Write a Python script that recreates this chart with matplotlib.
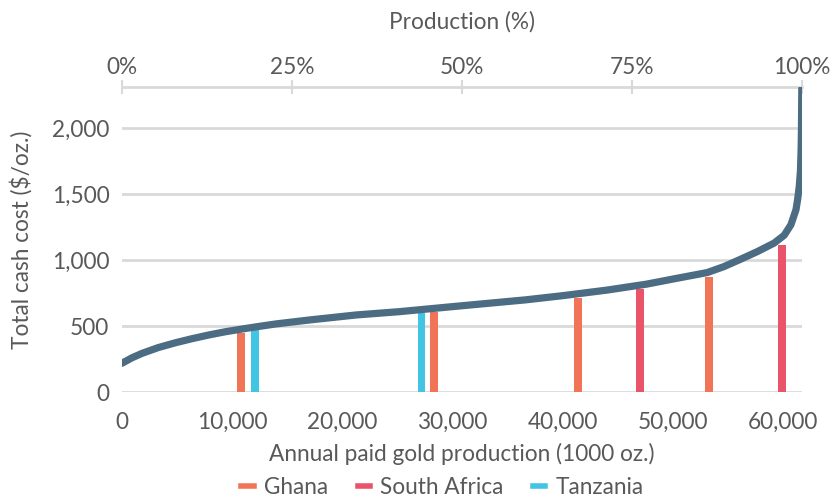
import matplotlib.pyplot as plt
from matplotlib.lines import Line2D

plt.rcParams['font.family'] = ['Lato', 'DejaVu Sans']

# ------------------------------------------------------------
# Cost curve: cumulative production (1000 oz.) vs total cash cost ($/oz.)
# ------------------------------------------------------------
cum_prod = [0, 900, 1850, 3300, 4880, 6400, 7920, 9400, 10950, 12500,
            13980, 17020, 21270, 25200, 30000, 36600, 40000, 44000, 47590,
            50070, 53110, 54620, 56140, 57660, 59170, 60080, 60690, 61150,
            61300, 61450, 61560, 61620, 61650, 61680]
cash_cost = [221, 262, 297, 340, 377, 408, 436, 460, 481, 501,
             519, 549, 587, 612, 650, 701, 733, 775, 820,
             860, 908, 953, 1009, 1067, 1131, 1190, 1269, 1383,
             1459, 1560, 1680, 1850, 2000, 2300]
total_prod = 61700

# Highlighted mines by country
mine_country = ["Ghana", "Tanzania", "Tanzania", "Ghana", "Ghana",
                "South Africa", "Ghana", "South Africa"]
mine_prod = [10830, 12100, 27180, 28300, 41400, 47040, 53230, 59870]
mine_cost = [453, 474, 605, 612, 719, 782, 873, 1118]

countries = ["Ghana", "South Africa", "Tanzania"]
colors = {"Ghana": "#F27456", "South Africa": "#E9546B", "Tanzania": "#41C5E2"}

text_col = "#595959"
grid_col = "#D9D9D9"
fs = 16.3

fig = plt.figure(figsize=(8.35, 5.01), dpi=100)
ax = fig.add_axes([0.146, 0.2166, 0.8145, 0.6091])

ax.bar(mine_prod, mine_cost, width=720,
       color=[colors[c] for c in mine_country], zorder=2)
ax.plot(cum_prod, cash_cost, color="#4C6C83", lw=5.2,
        solid_capstyle="round", solid_joinstyle="round", zorder=3)

ax.set_xlim(0, total_prod)
ax.set_ylim(0, 2310)
ax.set_xticks(range(0, 60001, 10000))
ax.set_yticks(range(0, 2001, 500))
ax.xaxis.set_major_formatter(plt.FuncFormatter(lambda v, p: f"{v:,.0f}"))
ax.yaxis.set_major_formatter(plt.FuncFormatter(lambda v, p: f"{v:,.0f}"))
ax.grid(axis="y", color=grid_col, lw=2, zorder=0)
ax.set_axisbelow(True)
for s in ax.spines.values():
    s.set_visible(False)
ax.tick_params(axis="both", length=0, labelsize=fs, labelcolor=text_col)
ax.tick_params(axis="x", pad=14)
ax.tick_params(axis="y", pad=9)

ax.set_xlabel("Annual paid gold production (1000 oz.)", fontsize=fs,
              color=text_col, labelpad=7)
ax.set_ylabel("Total cash cost ($/oz.)", fontsize=fs, color=text_col,
              labelpad=14)

# Share of total production on the top axis
top = ax.secondary_xaxis("top", functions=(lambda x: x / total_prod * 100,
                                           lambda p: p / 100 * total_prod))
top.set_xticks([0, 25, 50, 75, 100])
top.set_xticklabels(["0%", "25%", "50%", "75%", "100%"])
top.tick_params(direction="inout", length=10, width=1.5, color=grid_col,
                labelsize=fs, labelcolor=text_col, pad=2)
top.spines["top"].set_color(grid_col)
top.spines["top"].set_linewidth(2)
top.set_xlabel("Production (%)", fontsize=fs, color=text_col, labelpad=20)

handles = [Line2D([], [], color=colors[c], lw=4) for c in countries]
fig.legend(handles, countries, loc="lower center", ncol=3, frameon=False,
           bbox_to_anchor=(0.53, -0.035), fontsize=fs, handlelength=0.55,
           handletextpad=0.45, columnspacing=1.3, labelcolor=text_col)

fig.savefig("out.png", dpi=100)
